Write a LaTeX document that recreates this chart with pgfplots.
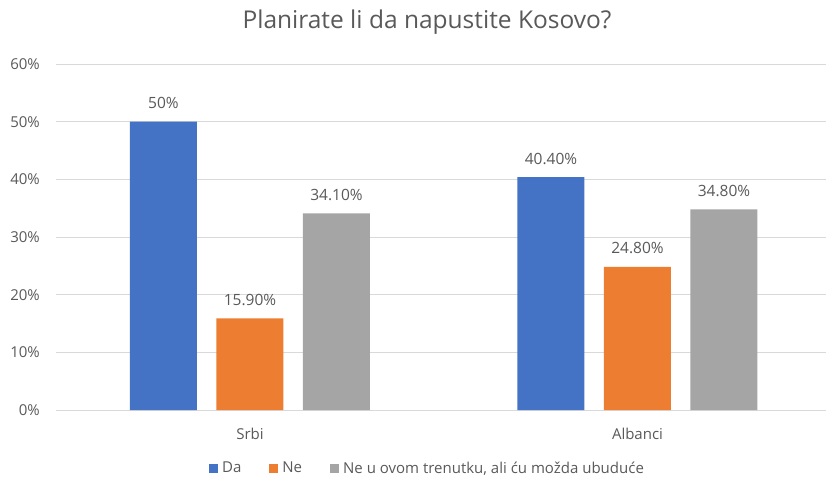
\documentclass[border=0pt]{standalone}
\usepackage{pgfplots}
\pgfplotsset{compat=1.18}
\usepackage{fontspec}
\setmainfont{Open Sans}
\definecolor{cblue}{HTML}{4472C4}
\definecolor{corange}{HTML}{ED7D31}
\definecolor{cgray}{HTML}{A5A5A5}
\definecolor{ctext}{HTML}{595959}
\definecolor{cgrid}{HTML}{D9D9D9}
\begin{document}
\begin{tikzpicture}[x=1pt,y=1pt]
\useasboundingbox (0,0) rectangle (826,482);
\node[font=\fontsize{24.5}{28}\selectfont, text=ctext, anchor=base] at (427,453) {Planirate li da napustite Kosovo?};
\begin{axis}[
  at={(56pt,72pt)}, anchor=south west,
  scale only axis, width=770pt, height=346pt,
  xmin=-0.5006, xmax=1.4865,
  ymin=0, ymax=60,
  ytick={0,10,...,60},
  yticklabel={\pgfmathprintnumber{\tick}\%},
  xtick={0,1}, xticklabels={Srbi,Albanci},
  major tick length=0pt,
  axis line style={draw=none},
  ymajorgrids, grid style={cgrid, line width=1pt},
  /pgf/number format/assume math mode=true,
  tick label style={font=\fontsize{15}{17}\selectfont, text=ctext},
  yticklabel style={inner sep=0pt, xshift=-16pt},
  xticklabel style={anchor=base, inner sep=0pt, yshift=-29pt},
  ybar, bar width=67pt,
  nodes near coords,
  point meta=explicit symbolic,
  every node near coord/.append style={font=\fontsize{15.5}{17}\selectfont, text=ctext, anchor=base, inner sep=0pt, yshift=13pt},
  legend style={at={(0.4825,-0.168)}, anchor=center, draw=none, fill=none,
    legend columns=-1, font=\fontsize{15}{17}\selectfont, text=ctext,
    /tikz/every even column/.append style={column sep=26pt}},
  legend image code/.code={\fill[#1] (0pt,-4.5pt) rectangle (9pt,4.5pt); \path (11pt,0pt);},
]
\addplot[fill=cblue, draw=none, bar shift=-86.5pt] coordinates {(0,50) [50\%] (1,40.4) [40.40\%]};
\addplot[fill=corange, draw=none, bar shift=0pt] coordinates {(0,15.9) [15.90\%] (1,24.8) [24.80\%]};
\addplot[fill=cgray, draw=none, bar shift=86.5pt] coordinates {(0,34.1) [34.10\%] (1,34.8) [34.80\%]};
\legend{Da, Ne, {Ne u ovom trenutku, ali ću možda ubuduće}}
\end{axis}
\end{tikzpicture}
\end{document}
